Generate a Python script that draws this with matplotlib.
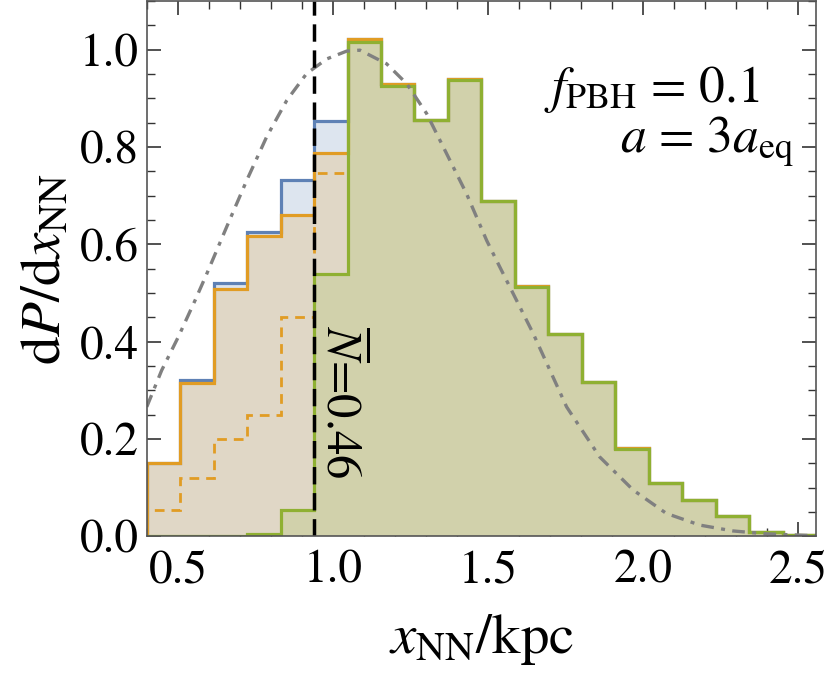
import numpy as np
import matplotlib
matplotlib.use("Agg")
import matplotlib.pyplot as plt
from matplotlib.ticker import MultipleLocator, FormatStrFormatter

# ---- data ----
bin_edges = [0.398, 0.506, 0.614, 0.722, 0.830, 0.938, 1.046, 1.154, 1.262,
             1.370, 1.478, 1.586, 1.694, 1.802, 1.910, 2.018, 2.126, 2.234,
             2.342, 2.450, 2.558]

blue_vals = [0.150, 0.322, 0.521, 0.625, 0.732, 0.853, 1.022, 0.929, 0.855,
             0.939, 0.689, 0.514, 0.415, 0.317, 0.182, 0.109, 0.075, 0.042,
             0.009, 0.002]
orange_vals = [0.150, 0.314, 0.509, 0.617, 0.661, 0.788, 1.022, 0.929, 0.855,
               0.939, 0.689, 0.514, 0.415, 0.317, 0.182, 0.109, 0.075, 0.042,
               0.009, 0.002]
orange_dash_vals = [0.054, 0.119, 0.199, 0.249, 0.451, 0.747, 1.015, 0.925,
                    0.855, 0.937, 0.689, 0.513, 0.415, 0.317, 0.179, 0.109,
                    0.075, 0.042, 0.009, 0.002]
green_vals = [0.0, 0.0, 0.0, 0.004, 0.054, 0.540, 1.015, 0.925, 0.855, 0.937,
              0.689, 0.513, 0.415, 0.317, 0.179, 0.109, 0.075, 0.042, 0.009,
              0.002]

# gray dot-dashed reference curve (sampled points)
curve_x = [0.398, 0.446, 0.500, 0.554, 0.592, 0.656, 0.721, 0.785, 0.850,
           0.914, 0.979, 1.043, 1.086, 1.172, 1.237, 1.301, 1.366, 1.430,
           1.495, 1.537, 1.645, 1.753, 1.860, 1.968, 2.075, 2.183, 2.290,
           2.398, 2.558]
curve_y = [0.266, 0.341, 0.410, 0.485, 0.540, 0.636, 0.732, 0.821, 0.896,
           0.951, 0.981, 0.997, 0.999, 0.971, 0.930, 0.869, 0.786, 0.704,
           0.608, 0.554, 0.417, 0.266, 0.163, 0.095, 0.047, 0.023, 0.011,
           0.005, 0.001]

n_mean_x = 0.938
n_mean_label = r"$\overline{N}$=0.46"

BLUE = "#5e81b5"
ORANGE = "#e19c24"
GREEN = "#8fb032"

plt.rcParams["font.family"] = "STIXGeneral"
plt.rcParams["mathtext.fontset"] = "stix"

fig = plt.figure(figsize=(8.34, 6.75), dpi=100)
ax = fig.add_axes([0.176, 0.2055, 0.8024, 0.793])

# fills (nested, opaque colours matching the blended look)
ax.stairs(blue_vals, bin_edges, fill=True, color="#dde5ef", zorder=1)
ax.stairs(orange_vals, bin_edges, fill=True, color="#e0d7c6", zorder=2)
ax.stairs(green_vals, bin_edges, fill=True, color="#d1d1ab", zorder=3)

# outlines
ax.stairs(blue_vals, bin_edges, color=BLUE, lw=2.3, zorder=4)
ax.stairs(orange_dash_vals, bin_edges, color=ORANGE, lw=2.0,
          linestyle=(0, (3.5, 2.5)), zorder=5)
ax.stairs(orange_vals, bin_edges, color=ORANGE, lw=2.3, zorder=6)
ax.stairs(green_vals, bin_edges, color=GREEN, lw=2.3, zorder=7)

ax.plot(curve_x, curve_y, color="#808080", lw=2.4,
        linestyle=(0, (3.8, 2.2, 1.2, 2.2)), zorder=8)

ax.axvline(n_mean_x, color="black", lw=2.5, linestyle=(0, (5, 2.5)), zorder=9)
ax.text(n_mean_x + 0.085, 0.276, n_mean_label, rotation=-90, fontsize=35,
        ha="center", va="center", zorder=10)

ax.text(0.916, 0.811, r"$f_{\rm PBH}$ = 0.1", transform=ax.transAxes,
        fontsize=37, ha="right", va="baseline")
ax.text(0.966, 0.716, r"$a$ = 3$a_{\rm eq}$", transform=ax.transAxes,
        fontsize=37, ha="right", va="baseline")

ax.set_xlim(0.398, 2.558)
ax.set_ylim(0, 1.1)
ax.xaxis.set_major_locator(MultipleLocator(0.5))
ax.xaxis.set_minor_locator(MultipleLocator(0.1))
ax.yaxis.set_major_locator(MultipleLocator(0.2))
ax.yaxis.set_minor_locator(MultipleLocator(0.05))
ax.xaxis.set_major_formatter(FormatStrFormatter("%.1f"))
ax.yaxis.set_major_formatter(FormatStrFormatter("%.1f"))
ax.tick_params(which="both", direction="in", top=True, right=True,
               labelsize=34, color="#333333")
ax.tick_params(axis="x", pad=10)
ax.tick_params(axis="y", pad=6)
ax.tick_params(which="major", length=10, width=1.2)
ax.tick_params(which="minor", length=6, width=1.0)
for s in ax.spines.values():
    s.set_color("#555555")
    s.set_linewidth(1.2)
    s.set_zorder(11)

ax.set_xlabel(r"$x_{\rm NN}/{\rm kpc}$", fontsize=41, labelpad=14)
ax.set_ylabel(r"${\rm d}P/{\rm d}x_{\rm NN}$", fontsize=41, labelpad=6)

fig.savefig("out.png", dpi=100)
